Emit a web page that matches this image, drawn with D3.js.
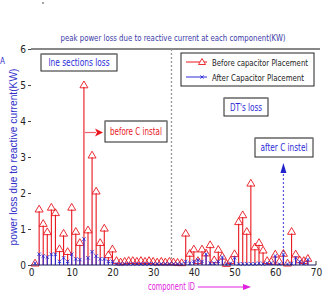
<!DOCTYPE html>
<html><head><meta charset="utf-8">
<script src="https://cdn.jsdelivr.net/npm/d3@7"></script>
<style>
html,body{margin:0;padding:0;background:#fff;}
svg{display:block;}
text{font-family:"Liberation Sans Narrow","DejaVu Sans Condensed","Liberation Sans",Arial,sans-serif;}
</style></head>
<body>
<svg id="c" width="324" height="293"></svg>
<script>
const ids = d3.range(1, 69);
const before = [0.05,1.55,1.15,0.92,1.6,1.45,0.45,0.88,0.37,1.6,0.93,0.62,5.0,0.97,3.05,2.05,0.62,1.02,0.28,0.44,
 0.12,0.08,0.1,0.12,0.12,0.1,0.12,0.1,0.12,0.1,0.08,0.1,0.08,0.1,0.08,0.07,0.06,
 0.88,0.32,0.44,0.12,0.44,0.33,0.56,0.14,0.43,0.24,0.04,0.12,0.31,1.2,1.39,0.93,2.27,0.5,0.62,0.41,0.12,0.1,0.3,0.1,0.32,0.05,0.93,0.3,0.14,0.12,0.18];
const after = [0.05,0.3,0.25,0.22,0.3,0.3,0.1,0.2,0.1,0.3,0.17,0.15,0.72,0.2,0.37,0.25,0.17,0.17,0.1,0.1,
 0.03,0.03,0.03,0.03,0.03,0.03,0.03,0.03,0.03,0.03,0.03,0.03,0.03,0.03,0.03,0.03,0.03,
 0.1,0.05,0.1,0.14,0.1,0.3,0.05,0.05,0.1,0.22,0.03,0.05,0.2,0.03,0.03,0.03,0.03,0.03,0.05,0.03,0.05,0.05,0.25,0.03,0.3,0.03,0.05,0.2,0.1,0.05,0.15];
const xTicks = [0,10,20,30,40,50,60,70];
const yTicks = [0,1,2,3,4,5,6];
const dividerId = 34.5;
const afterArrowId = 62;

const svg = d3.select("#c");
const x = d3.scaleLinear().domain([0,70]).range([31,316]);
const y = d3.scaleLinear().domain([0,6]).range([265,49]);
const red = "#e8161e", blue = "#2a2ad8";

svg.append("line").attr("x1",31).attr("x2",320).attr("y1",y(6)).attr("y2",y(6)).attr("stroke","#111").attr("stroke-width",1);

const ya = svg.append("g").attr("transform","translate(31,0)")
  .call(d3.axisLeft(y).tickValues(yTicks).tickSize(3).tickPadding(2).tickFormat(d3.format("d")));
ya.select(".domain").remove();
ya.selectAll("text").attr("font-size",10).attr("fill","#222").style("font-family","'Liberation Sans Narrow','DejaVu Sans Condensed',sans-serif");
ya.selectAll("line").attr("stroke","#444");

const xa = svg.append("g").attr("transform","translate(0,265)")
  .call(d3.axisBottom(x).tickValues(xTicks).tickSize(0).tickPadding(4).tickFormat(d3.format("d")));
xa.select(".domain").remove();
xa.selectAll("text").attr("font-size",10).attr("fill","#222").style("font-family","'Liberation Sans Narrow','DejaVu Sans Condensed',sans-serif");
svg.append("line").attr("x1",x(70)).attr("x2",x(70)).attr("y1",265).attr("y2",261).attr("stroke","#333");

svg.append("line").attr("x1",x(dividerId)).attr("x2",x(dividerId)).attr("y1",y(6)).attr("y2",y(0))
  .attr("stroke","#999").attr("stroke-width",1.3).attr("stroke-dasharray","2,2");

svg.append("line").attr("x1",x(afterArrowId)).attr("x2",x(afterArrowId)).attr("y1",170).attr("y2",y(0))
  .attr("stroke","#5555e0").attr("stroke-width",1.2).attr("stroke-dasharray","2,2");
svg.append("path").attr("d",`M${x(afterArrowId)},163 L${x(afterArrowId)-3},173 L${x(afterArrowId)+3},173 Z`).attr("fill","#2222cc");

const g = svg.append("g");
g.selectAll(".rs").data(ids).join("line")
  .attr("x1",d=>x(d)).attr("x2",d=>x(d)).attr("y1",y(0)).attr("y2",(d,i)=>y(before[i])+2)
  .attr("stroke",red).attr("stroke-width",1.1);
g.selectAll(".rt").data(ids).join("path")
  .attr("d",(d,i)=>{const cx=x(d), cy=y(before[i]); return `M${cx},${cy-4} L${cx+4},${cy+2.8} L${cx-4},${cy+2.8} Z`;})
  .attr("fill","none").attr("stroke",red).attr("stroke-width",0.9);
g.selectAll(".bs").data(ids).join("line")
  .attr("x1",d=>x(d)).attr("x2",d=>x(d)).attr("y1",y(0)).attr("y2",(d,i)=>y(after[i]))
  .attr("stroke",blue).attr("stroke-width",1.1);
g.selectAll(".bx").data(ids).join("path")
  .attr("d",(d,i)=>{const cx=x(d), cy=y(after[i]); return `M${cx-1.7},${cy-1.7} L${cx+1.7},${cy+1.7} M${cx-1.7},${cy+1.7} L${cx+1.7},${cy-1.7}`;})
  .attr("stroke",blue).attr("stroke-width",0.9);

svg.append("line").attr("x1",x(0)).attr("x2",x(70)).attr("y1",y(0)).attr("y2",y(0)).attr("stroke","#1a1a60").attr("stroke-width",1.2);

svg.append("text").attr("x",173).attr("y",41).attr("text-anchor","middle").attr("font-size",9).attr("fill","#3a3aa8")
  .attr("textLength",225).attr("lengthAdjust","spacingAndGlyphs")
  .text("peak power loss due to reactive current at each component(KW)");

svg.append("text").attr("transform","translate(17,157) rotate(-90)").attr("text-anchor","middle").attr("font-size",10).attr("fill","#3030c8")
  .style("font-family","'Liberation Sans',Arial,sans-serif")
  .attr("textLength",177).attr("lengthAdjust","spacingAndGlyphs")
  .text("power loss due to reactive current(KW)");

svg.append("text").attr("x",148).attr("y",290).attr("font-size",10).attr("fill","#e020e0")
  .attr("textLength",47).attr("lengthAdjust","spacingAndGlyphs").text("component ID");
svg.append("line").attr("x1",198).attr("x2",244).attr("y1",287).attr("y2",287).attr("stroke","#e020e0").attr("stroke-width",1);
svg.append("path").attr("d","M251,287 L243,284 L243,290 Z").attr("fill","#e020e0");

svg.append("text").attr("x",0).attr("y",64).attr("font-size",8).attr("fill","#3030c8").text("A");
svg.append("circle").attr("cx",43).attr("cy",3).attr("r",0.8).attr("fill","#333");

function box(x0,y0,w,h,txt,col,tl){
  svg.append("rect").attr("x",x0).attr("y",y0).attr("width",w).attr("height",h).attr("fill","#fff").attr("stroke","#222").attr("stroke-width",1);
  svg.append("line").attr("x1",x0).attr("x2",x0+w).attr("y1",y0).attr("y2",y0).attr("stroke","#888").attr("stroke-width",1.3);
  svg.append("text").attr("x",x0+w/2).attr("y",y0+h/2+3.5).attr("text-anchor","middle").attr("font-size",10).attr("fill",col)
    .attr("textLength",tl).attr("lengthAdjust","spacingAndGlyphs").text(txt);
}
box(41,54,76,17,"lne sections loss","#2a2ad8",61);
box(224,98,44,18,"DT's loss","#2a2ad8",32);
box(105,121,62,21,"before C instal","#e8161e",52);
box(255,138,58,19,"after C instel","#2a2ad8",47);

svg.append("line").attr("x1",85).attr("x2",96).attr("y1",132.5).attr("y2",132.5).attr("stroke","#f06070").attr("stroke-width",1.2);
svg.append("path").attr("d","M103,132.5 L95,128.5 L97,132.5 L95,136.5 Z").attr("fill","#e8161e");

svg.append("rect").attr("x",181).attr("y",53).attr("width",133).attr("height",33).attr("fill","#fff").attr("stroke","#222").attr("stroke-width",1);
svg.append("line").attr("x1",186).attr("x2",207).attr("y1",62).attr("y2",62).attr("stroke",red);
svg.append("path").attr("d","M202,58.5 L205.5,64.5 L198.5,64.5 Z").attr("fill","#fff").attr("stroke",red).attr("stroke-width",0.9);
svg.append("text").attr("x",212).attr("y",66).attr("font-size",9).attr("fill","#222").attr("textLength",96).attr("lengthAdjust","spacingAndGlyphs").text("Before capacitor Placement");
svg.append("line").attr("x1",186).attr("x2",207).attr("y1",77).attr("y2",77).attr("stroke",blue);
svg.append("path").attr("d","M200.4,75.4 L203.6,78.6 M200.4,78.6 L203.6,75.4").attr("stroke",blue).attr("stroke-width",0.9);
svg.append("text").attr("x",212).attr("y",81).attr("font-size",9).attr("fill","#222").attr("textLength",92).attr("lengthAdjust","spacingAndGlyphs").text("After Capacitor Placement");
</script>
</body></html>
